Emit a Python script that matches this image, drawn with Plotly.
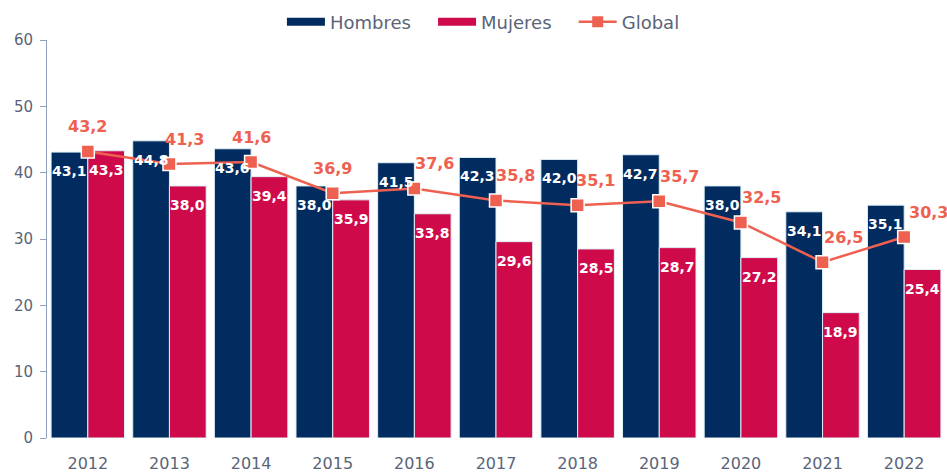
import plotly.graph_objects as go

years = ["2012", "2013", "2014", "2015", "2016", "2017", "2018", "2019", "2020", "2021", "2022"]
hombres = [43.1, 44.8, 43.6, 38.0, 41.5, 42.3, 42.0, 42.7, 38.0, 34.1, 35.1]
mujeres = [43.3, 38.0, 39.4, 35.9, 33.8, 29.6, 28.5, 28.7, 27.2, 18.9, 25.4]
global_ = [43.2, 41.3, 41.6, 36.9, 37.6, 35.8, 35.1, 35.7, 32.5, 26.5, 30.3]

# label placement (pixel shifts) for the Global labels
global_label_xshift = [0, 15, 0, 0, 20, 19, 18, 20, 21, 21, 24]
global_label_yshift = 25
bar_label_yshift = -19

C_H = "#022B5F"
C_M = "#CF0A4B"
C_G = "#EE6150"
TXT = "#5A6478"
FONT = "DejaVu Sans"
BARGAP = 0.1
NB = "\u00a0"


def fmt(v):
    return f"{v:.1f}".replace(".", ",")


fig = go.Figure()

bar_common = dict(showlegend=False, hoverinfo="skip")
fig.add_trace(go.Bar(x=years, y=hombres, name="Hombres",
                     marker=dict(color=C_H, line=dict(color="#DDF1F7", width=1)), **bar_common))
fig.add_trace(go.Bar(x=years, y=mujeres, name="Mujeres",
                     marker=dict(color=C_M, line=dict(color="#DDF1F7", width=1)), **bar_common))

fig.add_trace(go.Scatter(
    x=years, y=global_, name="Global", mode="lines+markers",
    line=dict(color=C_G, width=2.5),
    marker=dict(symbol="square", size=13, color=C_G, line=dict(color="white", width=1.5)),
    showlegend=False,
))

# legend entries
fig.add_trace(go.Scatter(x=[years[0]], y=[None], mode="lines", name="Hombres" + NB * 3,
                         line=dict(color=C_H, width=8), hoverinfo="skip"))
fig.add_trace(go.Scatter(x=[years[0]], y=[None], mode="lines", name="Mujeres" + NB * 3,
                         line=dict(color=C_M, width=8), hoverinfo="skip"))
fig.add_trace(go.Scatter(x=[years[0]], y=[None], mode="lines+markers", name="Global",
                         line=dict(color=C_G, width=2.5), hoverinfo="skip",
                         marker=dict(symbol="square", size=11, color=C_G)))

# bar value labels (category-index coordinates, offset to each bar's centre)
off = (1 - BARGAP) / 4
for i, (h, m) in enumerate(zip(hombres, mujeres)):
    for xv, v in ((i - off, h), (i + off, m)):
        fig.add_annotation(
            x=xv, y=v, text=fmt(v), showarrow=False, yshift=bar_label_yshift,
            font=dict(family=FONT, size=14, color="white", weight="bold"),
        )

for i, v in enumerate(global_):
    fig.add_annotation(
        x=i, y=v, text=fmt(v), showarrow=False,
        xshift=global_label_xshift[i], yshift=global_label_yshift,
        font=dict(family=FONT, size=16, color=C_G, weight="bold"),
    )

fig.update_layout(
    width=947, height=473,
    margin=dict(l=47, r=2, t=40, b=35, autoexpand=False),
    paper_bgcolor="white", plot_bgcolor="white",
    barmode="group", bargap=BARGAP, bargroupgap=0,
    font=dict(family=FONT, color=TXT),
    legend=dict(orientation="h", x=0.486, xanchor="center", y=1.045, yanchor="middle",
                font=dict(size=18, color=TXT), itemwidth=38, traceorder="normal"),
    showlegend=True,
)
fig.update_xaxes(type="category", range=[-0.5, len(years) - 0.5], automargin=False,
                 showline=False, ticks="", tickfont=dict(size=16, color=TXT),
                 ticklabelstandoff=14, showgrid=False)
fig.update_yaxes(range=[0, 60], dtick=10, showgrid=False, zeroline=False, automargin=False,
                 showline=True, linecolor="#8FA0BD", linewidth=1,
                 ticks="outside", ticklen=6, tickcolor="#8FA0BD", ticklabelstandoff=4,
                 tickfont=dict(size=15, color=TXT))

fig.write_html("out.html", config={"displayModeBar": False},
               post_script="document.body.style.margin='0';document.body.style.overflow='hidden';")
